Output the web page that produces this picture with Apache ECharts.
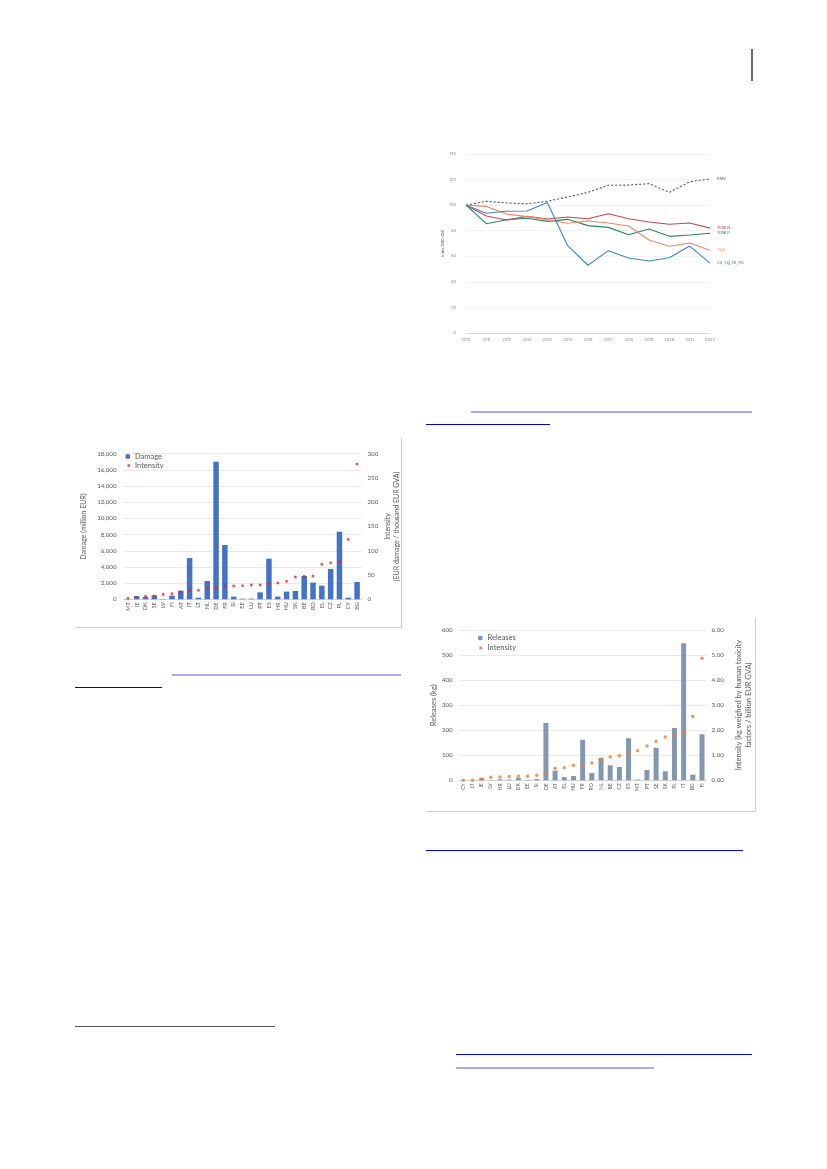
<!DOCTYPE html>
<html><head><meta charset="utf-8">
<script src="https://cdn.jsdelivr.net/npm/echarts@6/dist/echarts.min.js"></script>
<style>
html,body{margin:0;padding:0;background:#fff;}
.layer{position:absolute;left:0;top:0;width:827px;height:1169px;}
.ln{position:absolute;}
</style></head><body>
<div id="c1" class="layer"></div>
<div id="c2" class="layer"></div>
<div id="c3" class="layer"></div>
<!-- page decorations -->
<div class="ln" style="left:751px;top:49px;width:2px;height:32px;background:#6b6b6b"></div>
<div class="ln" style="left:471px;top:411px;width:281px;height:2px;background:#a8a8ff"></div>
<div class="ln" style="left:426px;top:424px;width:124px;height:1px;background:#0000d0"></div>
<div class="ln" style="left:172px;top:674px;width:229px;height:2px;background:#a8a8ff"></div>
<div class="ln" style="left:75px;top:687px;width:87px;height:1px;background:#0000d0"></div>
<div class="ln" style="left:426px;top:850px;width:317px;height:1px;background:#0000ff"></div>
<div class="ln" style="left:456px;top:1054px;width:296px;height:1px;background:#0000ff"></div>
<div class="ln" style="left:456px;top:1067px;width:198px;height:2px;background:#a8a8ff"></div>
<div class="ln" style="left:75px;top:1026px;width:200px;height:1px;background:#555"></div>
<!-- chart frames -->
<div class="ln" style="left:401px;top:438px;width:1px;height:189px;background:#cfcfcf"></div>
<div class="ln" style="left:75px;top:627px;width:327px;height:1px;background:#cfcfcf"></div>
<div class="ln" style="left:755px;top:618px;width:1px;height:194px;background:#cfcfcf"></div>
<div class="ln" style="left:426px;top:811px;width:330px;height:1px;background:#cfcfcf"></div>
<script>
// ---------- Chart 1: index lines ----------
const years = ['2010','2011','2012','2013','2014','2015','2016','2017','2018','2019','2020','2021','2022'];
const emv    = [100,103,101.7,101,103,106.4,110,115.5,115.7,116.8,110,118.3,120.4];
const totalN = [100,91.5,88.4,91.2,89.2,90.7,89.4,93.3,89.4,86.8,85,86,82];
const totalP = [100,85.5,88.6,89.7,87.3,88.9,84,82.6,76.9,81.3,75.6,76.6,78];
const toc    = [100,99,93,91,88.6,85.8,87.6,86,83.7,72.7,67.8,70.4,64.7];
const metals = [100,93.6,95.2,95.4,102,68.3,53,64.4,58.7,56.3,58.9,68,54.7];
const lineYTicks = [0,20,40,60,80,100,120,140];

// ---------- Chart 2: damage ----------
const damageCountries = ['MT','IE','DK','SE','LV','FI','AT','IT','LT','NL','DE','FR','SI','EE','LU','PT','ES','HR','HU','SK','BE','RO','EL','CZ','PL','CY','BG'];
const damage = [30,400,300,490,40,450,1070,5100,200,2260,17000,6710,330,80,80,860,5020,330,950,1030,2880,2060,1690,3750,8360,200,2140];
const damageIntensity = [2,3.5,6,7,10,11.7,15,17.8,18.5,22,24,26.8,27.5,28,29.5,29.5,32,33.6,37,46,47.4,48,72,75,77,123.5,278.6];

// ---------- Chart 3: releases ----------
const relCountries = ['CY','LT','IE','LV','HR','LU','DK','EE','SI','DE','AT','EL','HU','FR','RO','NL','BE','CZ','ES','MT','PT','SE','SK','PL','IT','BG','FI'];
const releases = [0,0,9,1,4,3,9,2,5,229,38.6,13,17,162,29,90,60,53,168,3,41,130,36,209,547,22.6,183.6];
const relIntensity = [0,0,0.05,0.12,0.13,0.15,0.16,0.16,0.2,0.31,0.48,0.5,0.6,0.61,0.69,0.81,0.93,0.98,1.05,1.18,1.37,1.56,1.73,1.78,1.9,2.55,4.87];

const FONT_XL = 'Lato';
const gray = '#595959';

// Chart 1
const c1 = echarts.init(document.getElementById('c1'), null, {renderer:'canvas'});
function lineSeries(name, data, color, dashed){
  return {
    type:'line', name:name, data:data, symbol:'none', silent:true,
    lineStyle:{color:color, width:1.1, type: dashed ? [2,2] : 'solid'},
    itemStyle:{color:color},
    endLabel:{show:true, formatter:'{a}', fontSize:4, color:color, distance:7, fontFamily:'Inter'}
  };
}
c1.setOption({
  animation:false,
  grid:{left:466, top:154, width:244, height:179},
  xAxis:{type:'category', data:years, boundaryGap:false,
    axisLine:{lineStyle:{color:'#d6d6d6', width:0.8}}, axisTick:{show:false},
    axisLabel:{fontSize:4, color:'#8a8a8a', margin:5, fontFamily:'Inter'}},
  yAxis:{type:'value', min:lineYTicks[0], max:lineYTicks[lineYTicks.length-1], interval:20,
    name:'Index 2010=100', nameLocation:'middle', nameGap:15, nameRotate:90,
    nameTextStyle:{fontSize:3.6, color:'#555', fontFamily:'Inter'},
    axisLabel:{fontSize:4, color:'#8a8a8a', margin:10, fontFamily:'Inter'},
    splitLine:{lineStyle:{color:'#efefef', width:0.8}}, axisLine:{show:false}, axisTick:{show:false}},
  series:[
    lineSeries('EMV', emv, '#4b5565', true),
    lineSeries('Total N', totalN, '#c8474a', false),
    lineSeries('Total P', totalP, '#23876c', false),
    lineSeries('TOC', toc, '#f0875f', false),
    lineSeries('Cd, Hg, Ni, Pb', metals, '#3a86c8', false)
  ]
});

// Chart 2
const c2 = echarts.init(document.getElementById('c2'));
c2.setOption({
  animation:false,
  textStyle:{fontFamily:FONT_XL},
  legend:[
    {data:['Damage'], left:125.5, top:452.5, padding:0, itemWidth:4.5, itemHeight:4.5, orient:'vertical',
      textStyle:{fontSize:7.5, color:gray, fontFamily:FONT_XL}},
    {data:['Intensity'], left:127.5, top:461.5, padding:0, itemWidth:2.5, itemHeight:2.5, orient:'vertical',
      textStyle:{fontSize:7.5, color:gray, fontFamily:FONT_XL}}
  ],
  grid:{left:123.5, top:453.7, width:238, height:145.6},
  xAxis:{type:'category', data:damageCountries,
    axisLine:{lineStyle:{color:'#d9d9d9'}}, axisTick:{show:false},
    axisLabel:{rotate:90, fontSize:5.5, color:gray, margin:3, interval:0, fontFamily:FONT_XL}},
  yAxis:[
    {type:'value', min:0, max:18000, interval:2000,
      name:'Damage (million EUR)', nameLocation:'middle', nameGap:36, nameRotate:90,
      nameTextStyle:{fontSize:7, color:gray, fontFamily:FONT_XL},
      axisLabel:{fontSize:6.2, color:gray, margin:7, fontFamily:FONT_XL,
        formatter:v=>v.toLocaleString('en-US')},
      splitLine:{lineStyle:{color:'#e3e3e3', width:0.8}}, axisLine:{show:false}, axisTick:{show:false}},
    {type:'value', min:0, max:300, interval:50, position:'right',
      name:'Intensity\n(EUR damage / thousand EUR GVA)', nameLocation:'middle', nameGap:22, nameRotate:90,
      nameTextStyle:{fontSize:7, color:gray, fontFamily:FONT_XL, lineHeight:9},
      axisLabel:{fontSize:6.2, color:gray, margin:6, fontFamily:FONT_XL},
      splitLine:{show:false}, axisLine:{show:false}, axisTick:{show:false}}
  ],
  series:[
    {type:'bar', name:'Damage', data:damage, barWidth:5.5, itemStyle:{color:'#4472c4'}, silent:true},
    {type:'scatter', name:'Intensity', data:damageIntensity, yAxisIndex:1, symbol:'rect', symbolSize:2.5,
      itemStyle:{color:'#f01e1e'}, silent:true}
  ]
});

// Chart 3
const c3 = echarts.init(document.getElementById('c3'));
c3.setOption({
  animation:false,
  textStyle:{fontFamily:FONT_XL},
  legend:[
    {data:['Releases'], left:478, top:634, padding:0, itemWidth:4.5, itemHeight:4.5, orient:'vertical',
      textStyle:{fontSize:7.5, color:gray, fontFamily:FONT_XL}},
    {data:['Intensity'], left:479, top:644, padding:0, itemWidth:3.5, itemHeight:3.5, orient:'vertical',
      textStyle:{fontSize:7.5, color:gray, fontFamily:FONT_XL}}
  ],
  grid:{left:458.7, top:630, width:247.9, height:150.3},
  xAxis:{type:'category', data:relCountries,
    axisLine:{lineStyle:{color:'#d9d9d9'}}, axisTick:{show:false},
    axisLabel:{rotate:90, fontSize:5, color:gray, margin:3, interval:0, fontFamily:FONT_XL}},
  yAxis:[
    {type:'value', min:0, max:600, interval:100,
      name:'Releases (kg)', nameLocation:'middle', nameGap:21, nameRotate:90,
      nameTextStyle:{fontSize:7.5, color:gray, fontFamily:FONT_XL},
      axisLabel:{fontSize:6.2, color:gray, margin:6, fontFamily:FONT_XL},
      splitLine:{lineStyle:{color:'#e3e3e3', width:0.8}}, axisLine:{show:false}, axisTick:{show:false}},
    {type:'value', min:0, max:6, interval:1, position:'right',
      name:'Intensity (kg weighed by human toxicity\nfactors / billion EUR GVA)', nameLocation:'middle', nameGap:27, nameRotate:90,
      nameTextStyle:{fontSize:7.5, color:gray, fontFamily:FONT_XL, lineHeight:10},
      axisLabel:{fontSize:6.2, color:gray, margin:5, fontFamily:FONT_XL, formatter:v=>v.toFixed(2)},
      splitLine:{show:false}, axisLine:{show:false}, axisTick:{show:false}}
  ],
  series:[
    {type:'bar', name:'Releases', data:releases, barWidth:5, itemStyle:{color:'#8497b0'}, silent:true},
    {type:'scatter', name:'Intensity', data:relIntensity, yAxisIndex:1, symbol:'circle', symbolSize:3.5,
      itemStyle:{color:'#ed7d31'}, silent:true}
  ]
});
</script>
</body></html>
